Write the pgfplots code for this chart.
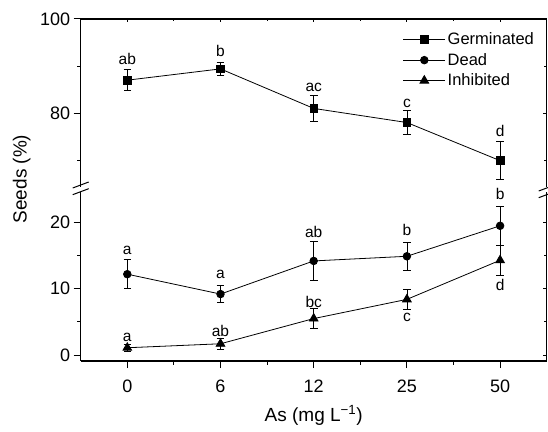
\documentclass[border=0pt]{standalone}
\usepackage{fontspec}
\setmainfont{Liberation Sans}
\usepackage{pgfplots}
\usepackage{pgfplotstable}
\pgfplotsset{compat=1.18}

\pgfplotstableread{
x y e
0 87.0 2.2
1 89.4 1.4
2 81.0 2.7
3 78.0 2.5
4 69.9 4.0
}\germ
\pgfplotstableread{
x y e
0 12.2 2.2
1 9.2 1.3
2 14.2 2.9
3 14.9 2.1
4 19.5 3.0
}\dead
\pgfplotstableread{
x y e
0 1.1 0.5
1 1.7 0.85
2 5.5 1.5
3 8.4 1.5
4 14.3 2.3
}\inhib

\newcommand{\tickfont}{\fontsize{18}{21}\selectfont}
\newcommand{\letfont}{\fontsize{15.5}{18}\selectfont}
\newcommand{\labfont}{\fontsize{19}{22}\selectfont}

\pgfplotsset{
  base/.style={
    scale only axis, width=466pt,
    xmin=-0.5, xmax=4.5,
    xtick={0,1,2,3,4}, xticklabels={0,6,12,25,50},
    minor xtick={0.5,1.5,2.5,3.5},
    axis line style={-, line width=1.1pt, black},
    major tick style={line width=1pt, black},
    minor tick style={line width=1pt, black},
    tick label style={font=\tickfont},
    /pgf/number format/assume math mode=true,
    clip=false,
  },
  outer/.style={tick align=outside, major tick length=7pt, minor tick length=3.5pt},
  inner/.style={tick align=inside, major tick length=3.5pt, minor tick length=2.5pt,
    xticklabels={}, yticklabels={}},
  topsec/.style={base, at={(0,0)}, anchor=north west, height=168pt,
    ymin=64.3, ymax=100, ytick={80,100}, minor ytick={70,90}},
  botsec/.style={base, at={(0,-173pt)}, anchor=north west, height=169pt,
    ymin=-0.9, ymax=24.6, ytick={0,10,20}, minor ytick={5,15}},
  ser/.style={black, line width=0.8pt,
    error bars/y dir=both, error bars/y explicit,
    error bars/error bar style={line width=0.8pt, black},
    error bars/error mark options={rotate=90, mark size=3.8pt, line width=0.8pt, black}},
  legend image code/.code={%
    \draw[#1, mark repeat=2, mark phase=2] plot coordinates {(0pt,0pt) (21pt,0pt) (42pt,0pt)};},
}

\begin{document}
\begin{tikzpicture}
\useasboundingbox (-80.7pt,19pt) rectangle (467.3pt,-412pt);

% ---------- top section ----------
\begin{axis}[topsec, outer, axis y line*=left, axis x line=none,
  legend style={at={(0.691,0.93)}, anchor=north west, draw=none, fill=none,
    inner sep=0pt, font=\fontsize{16.5}{20}\selectfont, row sep=3pt,
    nodes={inner sep=2pt}},
  legend cell align=left]
\addplot[ser, mark=square*, mark options={mark size=3.8pt, solid, fill=black}]
  table[x=x, y=y, y error=e] {\germ};
\addlegendentry{Germinated}
\addlegendimage{black, line width=0.8pt, mark=*, mark options={mark size=3.8pt, fill=black}}
\addlegendentry{Dead}
\addlegendimage{black, line width=0.8pt, mark=triangle*, mark options={mark size=5pt, fill=black}}
\addlegendentry{Inhibited}
\node[anchor=base, inner sep=0pt, font=\letfont] at (axis cs:0,90.4) {ab};
\node[anchor=base, inner sep=0pt, font=\letfont] at (axis cs:1,92.0) {b};
\node[anchor=base, inner sep=0pt, font=\letfont] at (axis cs:2,84.7) {ac};
\node[anchor=base, inner sep=0pt, font=\letfont] at (axis cs:3,81.3) {c};
\node[anchor=base, inner sep=0pt, font=\letfont] at (axis cs:4,75.0) {d};
\end{axis}
\begin{axis}[topsec, inner, axis y line*=right, axis x line*=top]
\end{axis}

% ---------- bottom section ----------
\begin{axis}[botsec, outer, axis y line*=left, axis x line*=bottom,
  xlabel={As (mg L\textsuperscript{−1})},
  xlabel style={font=\labfont, at={(axis description cs:0.5,0)}, anchor=base, yshift=-60pt},
  xticklabel style={yshift=-8pt}]
\addplot[ser, mark=*, mark options={mark size=3.8pt, solid, fill=black}]
  table[x=x, y=y, y error=e] {\dead};
\addplot[ser, mark=triangle*, mark options={mark size=5pt, solid, fill=black}]
  table[x=x, y=y, y error=e] {\inhib};
\node[anchor=base, inner sep=0pt, font=\letfont] at (axis cs:0,15.2) {a};
\node[anchor=base, inner sep=0pt, font=\letfont] at (axis cs:1,11.5) {a};
\node[anchor=base, inner sep=0pt, font=\letfont] at (axis cs:2,17.7) {ab};
\node[anchor=base, inner sep=0pt, font=\letfont] at (axis cs:3,18.1) {b};
\node[anchor=base, inner sep=0pt, font=\letfont] at (axis cs:4,23.4) {b};
\node[anchor=base, inner sep=0pt, font=\letfont] at (axis cs:0,2.0) {a};
\node[anchor=base, inner sep=0pt, font=\letfont] at (axis cs:1,2.8) {ab};
\node[anchor=base, inner sep=0pt, font=\letfont] at (axis cs:2,7.2) {bc};
\node[anchor=base, inner sep=0pt, font=\letfont] at (axis cs:3,5.0) {c};
\node[anchor=base, inner sep=0pt, font=\letfont] at (axis cs:4,9.8) {d};
\end{axis}
\begin{axis}[botsec, inner, axis y line*=right, axis x line=none]
\end{axis}

% y label
\node[rotate=90, font=\labfont] at (-59pt,-160pt) {Seeds (\%)};

% axis break marks
\draw[line width=1pt] (-8pt,-169pt) -- (8pt,-163pt);
\draw[line width=1pt] (-8pt,-175.7pt) -- (8pt,-169.7pt);
\draw[line width=1pt] (458pt,-172pt) -- (474pt,-166pt);
\draw[line width=1pt] (458pt,-178.7pt) -- (474pt,-172.7pt);
\end{tikzpicture}
\end{document}
